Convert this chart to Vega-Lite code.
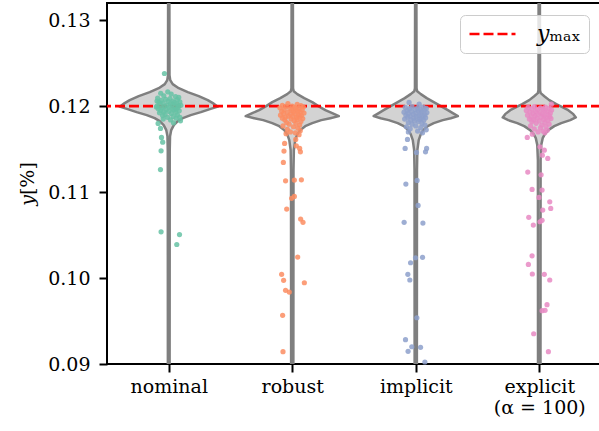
{
  "$schema": "https://vega.github.io/schema/vega-lite/v6.json",
  "width": 494,
  "height": 361,
  "autosize": {"type": "none"},
  "padding": {"left": 107, "top": 3, "right": 0, "bottom": 67},
  "config": {
    "font": "DejaVu Serif",
    "view": {"stroke": "black", "strokeWidth": 2},
    "axis": {
      "grid": false,
      "domain": false,
      "labelFont": "DejaVu Serif",
      "titleFont": "DejaVu Serif",
      "labelFontSize": 19,
      "titleFontSize": 19,
      "titleFontWeight": "normal",
      "labelColor": "black",
      "titleColor": "black",
      "tickColor": "black",
      "tickWidth": 2,
      "tickSize": 8
    },
    "legend": {"labelFont": "DejaVu Serif", "labelFontSize": 22, "labelColor": "black"}
  },
  "datasets": {
    "vio": [
      {"g": "nominal", "v": 0.13465, "w": 0.005},
      {"g": "nominal", "v": 0.1236, "w": 0.006},
      {"g": "nominal", "v": 0.12302, "w": 0.012},
      {"g": "nominal", "v": 0.12256, "w": 0.032},
      {"g": "nominal", "v": 0.12209, "w": 0.081},
      {"g": "nominal", "v": 0.12163, "w": 0.154},
      {"g": "nominal", "v": 0.12116, "w": 0.243},
      {"g": "nominal", "v": 0.1207, "w": 0.316},
      {"g": "nominal", "v": 0.12035, "w": 0.357},
      {"g": "nominal", "v": 0.11994, "w": 0.397},
      {"g": "nominal", "v": 0.11965, "w": 0.333},
      {"g": "nominal", "v": 0.1193, "w": 0.26},
      {"g": "nominal", "v": 0.11895, "w": 0.178},
      {"g": "nominal", "v": 0.1186, "w": 0.114},
      {"g": "nominal", "v": 0.11826, "w": 0.073},
      {"g": "nominal", "v": 0.11779, "w": 0.041},
      {"g": "nominal", "v": 0.11721, "w": 0.02},
      {"g": "nominal", "v": 0.11651, "w": 0.0105},
      {"g": "nominal", "v": 0.11488, "w": 0.008},
      {"g": "nominal", "v": 0.08814, "w": 0.007},
      {"g": "robust", "v": 0.13465, "w": 0.005},
      {"g": "robust", "v": 0.12209, "w": 0.0065},
      {"g": "robust", "v": 0.12174, "w": 0.012},
      {"g": "robust", "v": 0.1214, "w": 0.041},
      {"g": "robust", "v": 0.12093, "w": 0.097},
      {"g": "robust", "v": 0.12047, "w": 0.162},
      {"g": "robust", "v": 0.12, "w": 0.211},
      {"g": "robust", "v": 0.11953, "w": 0.268},
      {"g": "robust", "v": 0.11919, "w": 0.324},
      {"g": "robust", "v": 0.11884, "w": 0.377},
      {"g": "robust", "v": 0.1186, "w": 0.308},
      {"g": "robust", "v": 0.11837, "w": 0.235},
      {"g": "robust", "v": 0.11802, "w": 0.162},
      {"g": "robust", "v": 0.11767, "w": 0.105},
      {"g": "robust", "v": 0.11721, "w": 0.065},
      {"g": "robust", "v": 0.11674, "w": 0.041},
      {"g": "robust", "v": 0.11605, "w": 0.024},
      {"g": "robust", "v": 0.11488, "w": 0.013},
      {"g": "robust", "v": 0.11256, "w": 0.01},
      {"g": "robust", "v": 0.08814, "w": 0.009},
      {"g": "implicit", "v": 0.13465, "w": 0.005},
      {"g": "implicit", "v": 0.12209, "w": 0.0065},
      {"g": "implicit", "v": 0.12174, "w": 0.012},
      {"g": "implicit", "v": 0.1214, "w": 0.041},
      {"g": "implicit", "v": 0.12093, "w": 0.089},
      {"g": "implicit", "v": 0.12047, "w": 0.146},
      {"g": "implicit", "v": 0.12, "w": 0.203},
      {"g": "implicit", "v": 0.11953, "w": 0.26},
      {"g": "implicit", "v": 0.11919, "w": 0.3},
      {"g": "implicit", "v": 0.11884, "w": 0.341},
      {"g": "implicit", "v": 0.1186, "w": 0.284},
      {"g": "implicit", "v": 0.11837, "w": 0.219},
      {"g": "implicit", "v": 0.11802, "w": 0.146},
      {"g": "implicit", "v": 0.11767, "w": 0.097},
      {"g": "implicit", "v": 0.11721, "w": 0.061},
      {"g": "implicit", "v": 0.11674, "w": 0.041},
      {"g": "implicit", "v": 0.11605, "w": 0.024},
      {"g": "implicit", "v": 0.11488, "w": 0.013},
      {"g": "implicit", "v": 0.11256, "w": 0.01},
      {"g": "implicit", "v": 0.08814, "w": 0.009},
      {"g": "explicit", "v": 0.13465, "w": 0.005},
      {"g": "explicit", "v": 0.12186, "w": 0.0065},
      {"g": "explicit", "v": 0.12151, "w": 0.012},
      {"g": "explicit", "v": 0.12116, "w": 0.041},
      {"g": "explicit", "v": 0.1207, "w": 0.081},
      {"g": "explicit", "v": 0.12023, "w": 0.138},
      {"g": "explicit", "v": 0.11988, "w": 0.187},
      {"g": "explicit", "v": 0.11953, "w": 0.235},
      {"g": "explicit", "v": 0.11907, "w": 0.276},
      {"g": "explicit", "v": 0.11869, "w": 0.296},
      {"g": "explicit", "v": 0.11837, "w": 0.251},
      {"g": "explicit", "v": 0.11802, "w": 0.178},
      {"g": "explicit", "v": 0.11767, "w": 0.122},
      {"g": "explicit", "v": 0.11721, "w": 0.073},
      {"g": "explicit", "v": 0.11674, "w": 0.045},
      {"g": "explicit", "v": 0.11628, "w": 0.028},
      {"g": "explicit", "v": 0.11547, "w": 0.016},
      {"g": "explicit", "v": 0.11372, "w": 0.011},
      {"g": "explicit", "v": 0.08814, "w": 0.01}
    ],
    "ref": [{"name": "𝑦ₘₐₓ", "v": 0.12}],
    "pts": [
      {"g": "nominal", "v": 0.12166, "j": -0.008},
      {"g": "nominal", "v": 0.12101, "j": 0.081},
      {"g": "nominal", "v": 0.11829, "j": 0.095},
      {"g": "nominal", "v": 0.11806, "j": 0.038},
      {"g": "nominal", "v": 0.1215, "j": -0.065},
      {"g": "nominal", "v": 0.1214, "j": 0.02},
      {"g": "nominal", "v": 0.1212, "j": -0.04},
      {"g": "nominal", "v": 0.12112, "j": 0.055},
      {"g": "nominal", "v": 0.12095, "j": -0.09},
      {"g": "nominal", "v": 0.12088, "j": 0.01},
      {"g": "nominal", "v": 0.1208, "j": -0.025},
      {"g": "nominal", "v": 0.12075, "j": 0.07},
      {"g": "nominal", "v": 0.12068, "j": -0.06},
      {"g": "nominal", "v": 0.1206, "j": 0.035},
      {"g": "nominal", "v": 0.12055, "j": -0.005},
      {"g": "nominal", "v": 0.1205, "j": 0.09},
      {"g": "nominal", "v": 0.12045, "j": -0.08},
      {"g": "nominal", "v": 0.1204, "j": 0.045},
      {"g": "nominal", "v": 0.12035, "j": -0.045},
      {"g": "nominal", "v": 0.1203, "j": 0.015},
      {"g": "nominal", "v": 0.12025, "j": 0.065},
      {"g": "nominal", "v": 0.1202, "j": -0.07},
      {"g": "nominal", "v": 0.12015, "j": 0.03},
      {"g": "nominal", "v": 0.1201, "j": -0.015},
      {"g": "nominal", "v": 0.12005, "j": 0.08},
      {"g": "nominal", "v": 0.12, "j": -0.095},
      {"g": "nominal", "v": 0.11998, "j": 0.05},
      {"g": "nominal", "v": 0.11995, "j": -0.035},
      {"g": "nominal", "v": 0.1199, "j": 0.005},
      {"g": "nominal", "v": 0.11985, "j": 0.075},
      {"g": "nominal", "v": 0.1198, "j": -0.055},
      {"g": "nominal", "v": 0.11975, "j": 0.025},
      {"g": "nominal", "v": 0.1197, "j": -0.085},
      {"g": "nominal", "v": 0.11965, "j": 0.06},
      {"g": "nominal", "v": 0.1196, "j": -0.02},
      {"g": "nominal", "v": 0.11955, "j": 0.04},
      {"g": "nominal", "v": 0.1195, "j": -0.065},
      {"g": "nominal", "v": 0.11945, "j": 0.085},
      {"g": "nominal", "v": 0.1194, "j": 0.0},
      {"g": "nominal", "v": 0.11935, "j": -0.04},
      {"g": "nominal", "v": 0.1193, "j": 0.055},
      {"g": "nominal", "v": 0.11922, "j": -0.075},
      {"g": "nominal", "v": 0.11915, "j": 0.02},
      {"g": "nominal", "v": 0.11905, "j": -0.03},
      {"g": "nominal", "v": 0.11898, "j": 0.07},
      {"g": "nominal", "v": 0.1189, "j": -0.05},
      {"g": "nominal", "v": 0.1188, "j": 0.035},
      {"g": "nominal", "v": 0.1187, "j": -0.01},
      {"g": "nominal", "v": 0.1186, "j": 0.06},
      {"g": "nominal", "v": 0.1185, "j": -0.045},
      {"g": "nominal", "v": 0.1184, "j": 0.015},
      {"g": "nominal", "v": 0.1187, "j": 0.09},
      {"g": "nominal", "v": 0.1201, "j": 0.098},
      {"g": "nominal", "v": 0.1199, "j": -0.1},
      {"g": "nominal", "v": 0.1206, "j": -0.095},
      {"g": "nominal", "v": 0.1238, "j": -0.035},
      {"g": "nominal", "v": 0.11799, "j": -0.086},
      {"g": "nominal", "v": 0.11741, "j": -0.067},
      {"g": "nominal", "v": 0.11636, "j": -0.059},
      {"g": "nominal", "v": 0.11581, "j": -0.049},
      {"g": "nominal", "v": 0.1148, "j": -0.062},
      {"g": "nominal", "v": 0.11262, "j": -0.067},
      {"g": "nominal", "v": 0.10538, "j": -0.062},
      {"g": "nominal", "v": 0.10506, "j": 0.087},
      {"g": "nominal", "v": 0.1039, "j": 0.065},
      {"g": "robust", "v": 0.1203, "j": -0.035},
      {"g": "robust", "v": 0.1202, "j": 0.04},
      {"g": "robust", "v": 0.1201, "j": -0.08},
      {"g": "robust", "v": 0.12005, "j": 0.07},
      {"g": "robust", "v": 0.12, "j": 0.0},
      {"g": "robust", "v": 0.11995, "j": -0.05},
      {"g": "robust", "v": 0.1199, "j": 0.09},
      {"g": "robust", "v": 0.11985, "j": 0.02},
      {"g": "robust", "v": 0.1198, "j": -0.1},
      {"g": "robust", "v": 0.11975, "j": 0.055},
      {"g": "robust", "v": 0.1197, "j": -0.02},
      {"g": "robust", "v": 0.11965, "j": 0.03},
      {"g": "robust", "v": 0.1196, "j": -0.065},
      {"g": "robust", "v": 0.11955, "j": 0.08},
      {"g": "robust", "v": 0.1195, "j": -0.005},
      {"g": "robust", "v": 0.11945, "j": 0.045},
      {"g": "robust", "v": 0.1194, "j": -0.085},
      {"g": "robust", "v": 0.11935, "j": 0.01},
      {"g": "robust", "v": 0.1193, "j": 0.065},
      {"g": "robust", "v": 0.11925, "j": -0.04},
      {"g": "robust", "v": 0.1192, "j": 0.095},
      {"g": "robust", "v": 0.11915, "j": -0.07},
      {"g": "robust", "v": 0.1191, "j": 0.025},
      {"g": "robust", "v": 0.11905, "j": -0.015},
      {"g": "robust", "v": 0.119, "j": 0.05},
      {"g": "robust", "v": 0.11895, "j": -0.095},
      {"g": "robust", "v": 0.1189, "j": 0.075},
      {"g": "robust", "v": 0.11885, "j": -0.03},
      {"g": "robust", "v": 0.1188, "j": 0.005},
      {"g": "robust", "v": 0.11875, "j": 0.06},
      {"g": "robust", "v": 0.1187, "j": -0.055},
      {"g": "robust", "v": 0.11865, "j": 0.035},
      {"g": "robust", "v": 0.1186, "j": -0.08},
      {"g": "robust", "v": 0.11855, "j": 0.085},
      {"g": "robust", "v": 0.1185, "j": -0.01},
      {"g": "robust", "v": 0.11845, "j": 0.04},
      {"g": "robust", "v": 0.1184, "j": -0.06},
      {"g": "robust", "v": 0.1183, "j": 0.015},
      {"g": "robust", "v": 0.1182, "j": 0.07},
      {"g": "robust", "v": 0.1181, "j": -0.045},
      {"g": "robust", "v": 0.118, "j": 0.03},
      {"g": "robust", "v": 0.1179, "j": -0.025},
      {"g": "robust", "v": 0.1178, "j": 0.06},
      {"g": "robust", "v": 0.1177, "j": -0.075},
      {"g": "robust", "v": 0.1176, "j": 0.01},
      {"g": "robust", "v": 0.11745, "j": 0.045},
      {"g": "robust", "v": 0.1173, "j": -0.04},
      {"g": "robust", "v": 0.11715, "j": 0.065},
      {"g": "robust", "v": 0.117, "j": -0.015},
      {"g": "robust", "v": 0.1169, "j": 0.025},
      {"g": "robust", "v": 0.1168, "j": -0.05},
      {"g": "robust", "v": 0.11668, "j": 0.055},
      {"g": "robust", "v": 0.11613, "j": 0.028},
      {"g": "robust", "v": 0.11566, "j": -0.062},
      {"g": "robust", "v": 0.11538, "j": 0.033},
      {"g": "robust", "v": 0.11508, "j": 0.06},
      {"g": "robust", "v": 0.11477, "j": -0.067},
      {"g": "robust", "v": 0.11469, "j": 0.066},
      {"g": "robust", "v": 0.11345, "j": -0.072},
      {"g": "robust", "v": 0.11131, "j": -0.054},
      {"g": "robust", "v": 0.1114, "j": 0.017},
      {"g": "robust", "v": 0.11143, "j": 0.074},
      {"g": "robust", "v": 0.10927, "j": -0.005},
      {"g": "robust", "v": 0.1095, "j": 0.017},
      {"g": "robust", "v": 0.10802, "j": -0.045},
      {"g": "robust", "v": 0.10686, "j": 0.068},
      {"g": "robust", "v": 0.10648, "j": 0.087},
      {"g": "robust", "v": 0.10244, "j": 0.044},
      {"g": "robust", "v": 0.10043, "j": -0.086},
      {"g": "robust", "v": 0.09973, "j": -0.07},
      {"g": "robust", "v": 0.09945, "j": 0.098},
      {"g": "robust", "v": 0.09857, "j": -0.054},
      {"g": "robust", "v": 0.09837, "j": -0.024},
      {"g": "robust", "v": 0.09566, "j": -0.078},
      {"g": "robust", "v": 0.09143, "j": -0.075},
      {"g": "implicit", "v": 0.12043, "j": -0.054},
      {"g": "implicit", "v": 0.12023, "j": 0.028},
      {"g": "implicit", "v": 0.11995, "j": -0.03},
      {"g": "implicit", "v": 0.1199, "j": 0.06},
      {"g": "implicit", "v": 0.11985, "j": -0.085},
      {"g": "implicit", "v": 0.1198, "j": 0.015},
      {"g": "implicit", "v": 0.11975, "j": 0.085},
      {"g": "implicit", "v": 0.1197, "j": -0.05},
      {"g": "implicit", "v": 0.11965, "j": 0.035},
      {"g": "implicit", "v": 0.1196, "j": -0.005},
      {"g": "implicit", "v": 0.11955, "j": 0.07},
      {"g": "implicit", "v": 0.1195, "j": -0.07},
      {"g": "implicit", "v": 0.11945, "j": 0.02},
      {"g": "implicit", "v": 0.1194, "j": -0.035},
      {"g": "implicit", "v": 0.11935, "j": 0.05},
      {"g": "implicit", "v": 0.1193, "j": -0.095},
      {"g": "implicit", "v": 0.11925, "j": 0.09},
      {"g": "implicit", "v": 0.1192, "j": 0.0},
      {"g": "implicit", "v": 0.11915, "j": -0.06},
      {"g": "implicit", "v": 0.1191, "j": 0.04},
      {"g": "implicit", "v": 0.11905, "j": -0.02},
      {"g": "implicit", "v": 0.119, "j": 0.075},
      {"g": "implicit", "v": 0.11895, "j": -0.08},
      {"g": "implicit", "v": 0.1189, "j": 0.025},
      {"g": "implicit", "v": 0.11885, "j": -0.045},
      {"g": "implicit", "v": 0.1188, "j": 0.06},
      {"g": "implicit", "v": 0.11875, "j": 0.005},
      {"g": "implicit", "v": 0.1187, "j": -0.065},
      {"g": "implicit", "v": 0.11865, "j": 0.08},
      {"g": "implicit", "v": 0.1186, "j": -0.015},
      {"g": "implicit", "v": 0.11855, "j": 0.045},
      {"g": "implicit", "v": 0.1185, "j": -0.09},
      {"g": "implicit", "v": 0.11845, "j": 0.03},
      {"g": "implicit", "v": 0.1184, "j": -0.04},
      {"g": "implicit", "v": 0.11835, "j": 0.065},
      {"g": "implicit", "v": 0.11828, "j": -0.01},
      {"g": "implicit", "v": 0.1182, "j": 0.02},
      {"g": "implicit", "v": 0.1181, "j": -0.06},
      {"g": "implicit", "v": 0.118, "j": 0.05},
      {"g": "implicit", "v": 0.1179, "j": -0.03},
      {"g": "implicit", "v": 0.1178, "j": 0.075},
      {"g": "implicit", "v": 0.1177, "j": 0.0},
      {"g": "implicit", "v": 0.1176, "j": -0.075},
      {"g": "implicit", "v": 0.1175, "j": 0.04},
      {"g": "implicit", "v": 0.11738, "j": -0.045},
      {"g": "implicit", "v": 0.11725, "j": 0.085},
      {"g": "implicit", "v": 0.1171, "j": 0.015},
      {"g": "implicit", "v": 0.117, "j": -0.06},
      {"g": "implicit", "v": 0.1169, "j": 0.055},
      {"g": "implicit", "v": 0.11613, "j": -0.067},
      {"g": "implicit", "v": 0.11508, "j": -0.086},
      {"g": "implicit", "v": 0.11508, "j": 0.088},
      {"g": "implicit", "v": 0.11469, "j": 0.079},
      {"g": "implicit", "v": 0.11462, "j": 0.006},
      {"g": "implicit", "v": 0.11093, "j": -0.08},
      {"g": "implicit", "v": 0.11136, "j": 0.011},
      {"g": "implicit", "v": 0.10845, "j": 0.019},
      {"g": "implicit", "v": 0.10648, "j": -0.094},
      {"g": "implicit", "v": 0.1064, "j": 0.058},
      {"g": "implicit", "v": 0.10236, "j": -0.002},
      {"g": "implicit", "v": 0.10241, "j": 0.055},
      {"g": "implicit", "v": 0.10178, "j": -0.042},
      {"g": "implicit", "v": 0.10043, "j": -0.064},
      {"g": "implicit", "v": 0.09977, "j": -0.048},
      {"g": "implicit", "v": 0.09538, "j": 0.009},
      {"g": "implicit", "v": 0.09283, "j": -0.083},
      {"g": "implicit", "v": 0.09201, "j": -0.032},
      {"g": "implicit", "v": 0.09194, "j": 0.039},
      {"g": "implicit", "v": 0.09148, "j": -0.062},
      {"g": "implicit", "v": 0.09023, "j": 0.074},
      {"g": "explicit", "v": 0.12023, "j": 0.098},
      {"g": "explicit", "v": 0.11995, "j": -0.04},
      {"g": "explicit", "v": 0.1199, "j": 0.05},
      {"g": "explicit", "v": 0.11985, "j": -0.09},
      {"g": "explicit", "v": 0.1198, "j": 0.01},
      {"g": "explicit", "v": 0.11975, "j": 0.08},
      {"g": "explicit", "v": 0.1197, "j": -0.06},
      {"g": "explicit", "v": 0.11965, "j": 0.03},
      {"g": "explicit", "v": 0.1196, "j": -0.015},
      {"g": "explicit", "v": 0.11955, "j": 0.1},
      {"g": "explicit", "v": 0.1195, "j": -0.105},
      {"g": "explicit", "v": 0.11945, "j": 0.045},
      {"g": "explicit", "v": 0.1194, "j": -0.03},
      {"g": "explicit", "v": 0.11935, "j": 0.065},
      {"g": "explicit", "v": 0.1193, "j": -0.075},
      {"g": "explicit", "v": 0.11925, "j": 0.005},
      {"g": "explicit", "v": 0.1192, "j": 0.09},
      {"g": "explicit", "v": 0.11915, "j": -0.05},
      {"g": "explicit", "v": 0.1191, "j": 0.025},
      {"g": "explicit", "v": 0.11905, "j": -0.01},
      {"g": "explicit", "v": 0.119, "j": 0.07},
      {"g": "explicit", "v": 0.11895, "j": -0.095},
      {"g": "explicit", "v": 0.1189, "j": 0.04},
      {"g": "explicit", "v": 0.11885, "j": -0.035},
      {"g": "explicit", "v": 0.1188, "j": 0.085},
      {"g": "explicit", "v": 0.11875, "j": -0.065},
      {"g": "explicit", "v": 0.1187, "j": 0.015},
      {"g": "explicit", "v": 0.11865, "j": 0.055},
      {"g": "explicit", "v": 0.1186, "j": -0.02},
      {"g": "explicit", "v": 0.11855, "j": 0.095},
      {"g": "explicit", "v": 0.1185, "j": -0.08},
      {"g": "explicit", "v": 0.11845, "j": 0.035},
      {"g": "explicit", "v": 0.1184, "j": -0.045},
      {"g": "explicit", "v": 0.11835, "j": 0.07},
      {"g": "explicit", "v": 0.11828, "j": 0.0},
      {"g": "explicit", "v": 0.1182, "j": -0.06},
      {"g": "explicit", "v": 0.1181, "j": 0.045},
      {"g": "explicit", "v": 0.118, "j": -0.025},
      {"g": "explicit", "v": 0.1179, "j": 0.08},
      {"g": "explicit", "v": 0.1178, "j": 0.02},
      {"g": "explicit", "v": 0.1177, "j": -0.07},
      {"g": "explicit", "v": 0.1176, "j": 0.055},
      {"g": "explicit", "v": 0.11748, "j": 0.01},
      {"g": "explicit", "v": 0.11735, "j": -0.04},
      {"g": "explicit", "v": 0.1172, "j": 0.065},
      {"g": "explicit", "v": 0.1171, "j": 0.03},
      {"g": "explicit", "v": 0.117, "j": -0.01},
      {"g": "explicit", "v": 0.1169, "j": 0.045},
      {"g": "explicit", "v": 0.11636, "j": -0.097},
      {"g": "explicit", "v": 0.11674, "j": -0.056},
      {"g": "explicit", "v": 0.11527, "j": 0.006},
      {"g": "explicit", "v": 0.11488, "j": 0.041},
      {"g": "explicit", "v": 0.1143, "j": 0.025},
      {"g": "explicit", "v": 0.11392, "j": 0.069},
      {"g": "explicit", "v": 0.11233, "j": -0.093},
      {"g": "explicit", "v": 0.11201, "j": 0.015},
      {"g": "explicit", "v": 0.11031, "j": -0.058},
      {"g": "explicit", "v": 0.11023, "j": 0.023},
      {"g": "explicit", "v": 0.10938, "j": -0.002},
      {"g": "explicit", "v": 0.10887, "j": 0.085},
      {"g": "explicit", "v": 0.1081, "j": 0.093},
      {"g": "explicit", "v": 0.10791, "j": 0.028},
      {"g": "explicit", "v": 0.10706, "j": -0.085},
      {"g": "explicit", "v": 0.10616, "j": -0.048},
      {"g": "explicit", "v": 0.10655, "j": 0.006},
      {"g": "explicit", "v": 0.10671, "j": 0.023},
      {"g": "explicit", "v": 0.10259, "j": -0.058},
      {"g": "explicit", "v": 0.10159, "j": -0.088},
      {"g": "explicit", "v": 0.10047, "j": -0.056},
      {"g": "explicit", "v": 0.10043, "j": 0.041},
      {"g": "explicit", "v": 0.09977, "j": 0.085},
      {"g": "explicit", "v": 0.0969, "j": 0.063},
      {"g": "explicit", "v": 0.0962, "j": 0.023},
      {"g": "explicit", "v": 0.09624, "j": 0.047},
      {"g": "explicit", "v": 0.09352, "j": -0.045},
      {"g": "explicit", "v": 0.09143, "j": 0.074}
    ]
  },
  "layer": [
    {
      "data": {"name": "vio"},
      "transform": [
        {"calculate": "indexof(['nominal','robust','implicit','explicit'], datum.g) - datum.w", "as": "lo"},
        {"calculate": "indexof(['nominal','robust','implicit','explicit'], datum.g) + datum.w", "as": "hi"}
      ],
      "mark": {"type": "area", "orient": "horizontal", "fill": "#d3d3d3", "stroke": "#7f7f7f", "strokeWidth": 2.5, "strokeJoin": "round", "clip": true},
      "encoding": {
        "y": {
          "field": "v", "type": "quantitative",
          "scale": {"domain": [0.09, 0.132], "nice": false, "zero": false},
          "axis": {"values": [0.09, 0.1, 0.11, 0.12, 0.13], "format": ".2f", "title": "𝑦[%]", "labelPadding": 9, "titlePadding": 10}
        },
        "x": {
          "field": "lo", "type": "quantitative",
          "scale": {"domain": [-0.5, 3.5], "nice": false, "zero": false},
          "axis": {
            "values": [0, 1, 2, 3],
            "title": null,
            "labelPadding": 5,
            "labelLineHeight": 21,
            "labelExpr": "datum.value == 0 ? 'nominal' : datum.value == 1 ? 'robust' : datum.value == 2 ? 'implicit' : ['explicit', '(α = 100)']"
          }
        },
        "x2": {"field": "hi"},
        "detail": {"field": "g"}
      }
    },
    {
      "data": {"name": "ref"},
      "mark": {"type": "rule", "strokeWidth": 2.7, "strokeDash": [10, 4], "clip": true},
      "encoding": {
        "y": {"field": "v", "type": "quantitative"},
        "stroke": {
          "field": "name", "type": "nominal",
          "scale": {"range": ["#ff0000"]},
          "legend": {
            "title": null,
            "orient": "top-right",
            "offset": 12,
            "padding": 8,
            "clipHeight": 22,
            "cornerRadius": 5,
            "strokeColor": "#cccccc",
            "fillColor": "rgba(255,255,255,0.8)",
            "symbolType": "stroke",
            "symbolSize": 2116,
            "symbolStrokeWidth": 2.7,
            "symbolDash": [10, 4],
            "labelOffset": 20
          }
        }
      }
    },
    {
      "data": {"name": "pts"},
      "transform": [
        {"calculate": "indexof(['nominal','robust','implicit','explicit'], datum.g) + datum.j", "as": "x"}
      ],
      "mark": {"type": "circle", "size": 27, "opacity": 0.85},
      "encoding": {
        "x": {"field": "x", "type": "quantitative"},
        "y": {"field": "v", "type": "quantitative"},
        "color": {
          "field": "g", "type": "nominal",
          "scale": {"domain": ["nominal", "robust", "implicit", "explicit"], "range": ["#66c2a5", "#fc8d62", "#8da0cb", "#e78ac3"]},
          "legend": null
        }
      }
    }
  ]
}
